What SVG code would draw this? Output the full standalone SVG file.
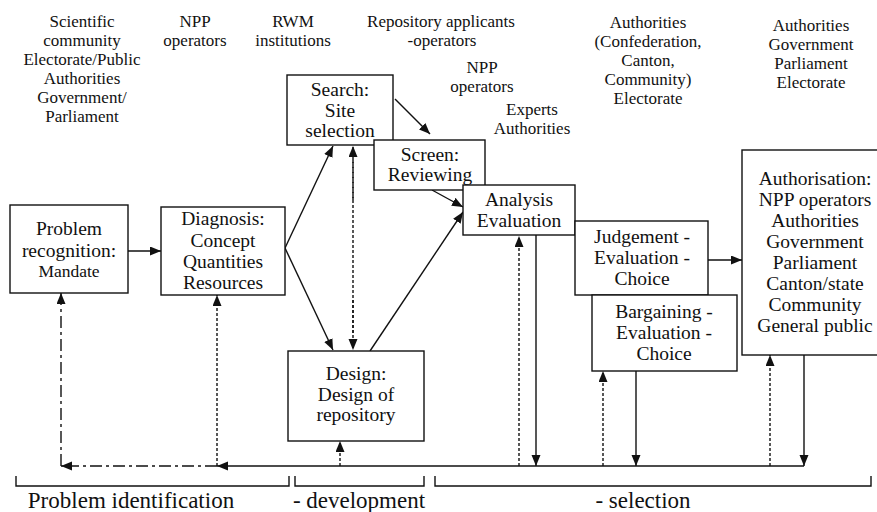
<svg xmlns="http://www.w3.org/2000/svg" width="877" height="512" viewBox="0 0 877 512" font-family="'Liberation Serif', 'Times New Roman', 'DejaVu Serif', serif">
<style>
  text { font-family: 'Liberation Serif', 'Times New Roman', 'DejaVu Serif', serif; fill: #111; text-anchor: middle; }
  .lbl { font-size: 17px; }
  .box { font-size: 19.5px; }
  .big { font-size: 23px; }
  rect { fill: #fff; stroke: #111; stroke-width: 1.4; }
  .c { fill: none; stroke: #111; stroke-width: 1.4; }
  .dot { stroke-dasharray: 3 2; }
  .dd { stroke-dasharray: 12 4 3 4; }
</style>
<defs>
  <marker id="a" markerUnits="userSpaceOnUse" markerWidth="12" markerHeight="10" refX="11" refY="4.5" orient="auto">
    <path d="M0,0 L11,4.5 L0,9 Z" fill="#111"/>
  </marker>
</defs>
<rect x="0" y="0" width="877" height="512" style="fill:#fff;stroke:none"/>

<g id="actor-labels">
  <text class="lbl" x="82" y="27">Scientific</text>
  <text class="lbl" x="82" y="46">community</text>
  <text class="lbl" x="82" y="65">Electorate/Public</text>
  <text class="lbl" x="82" y="84">Authorities</text>
  <text class="lbl" x="82" y="103">Government/</text>
  <text class="lbl" x="82" y="122">Parliament</text>
  <text class="lbl" x="195" y="27">NPP</text>
  <text class="lbl" x="195" y="46">operators</text>
  <text class="lbl" x="293" y="27">RWM</text>
  <text class="lbl" x="293" y="46">institutions</text>
  <text class="lbl" x="441" y="27">Repository applicants</text>
  <text class="lbl" x="442" y="46">-operators</text>
  <text class="lbl" x="482" y="73">NPP</text>
  <text class="lbl" x="482" y="92">operators</text>
  <text class="lbl" x="532" y="115">Experts</text>
  <text class="lbl" x="532" y="134">Authorities</text>
  <text class="lbl" x="648" y="28">Authorities</text>
  <text class="lbl" x="648" y="47">(Confederation,</text>
  <text class="lbl" x="648" y="66">Canton,</text>
  <text class="lbl" x="648" y="85">Community)</text>
  <text class="lbl" x="648" y="104">Electorate</text>
  <text class="lbl" x="811" y="31">Authorities</text>
  <text class="lbl" x="811" y="50">Government</text>
  <text class="lbl" x="811" y="69">Parliament</text>
  <text class="lbl" x="811" y="88">Electorate</text>
</g>

<g id="connectors">
  <line class="c" x1="128" y1="251" x2="161" y2="251" marker-end="url(#a)"/>
  <line class="c" x1="285" y1="248" x2="333" y2="146" marker-end="url(#a)"/>
  <line class="c" x1="285" y1="248" x2="333" y2="350" marker-end="url(#a)"/>
  <line class="c dot" x1="353" y1="160" x2="353" y2="335"/>
  <line class="c dot" x1="353" y1="200" x2="353" y2="146" marker-end="url(#a)"/>
  <line class="c dot" x1="353" y1="300" x2="353" y2="350" marker-end="url(#a)"/>
  <line class="c" x1="370" y1="351" x2="463" y2="212" marker-end="url(#a)"/>
  <line class="c" x1="395" y1="99" x2="430" y2="134" marker-end="url(#a)"/>
  <line class="c" x1="432" y1="190" x2="463" y2="207" marker-end="url(#a)"/>
  <line class="c" x1="708" y1="260" x2="742" y2="260" marker-end="url(#a)"/>
  <line class="c" x1="536" y1="235" x2="536" y2="466" marker-end="url(#a)"/>
  <line class="c dot" x1="519" y1="466" x2="519" y2="236" marker-end="url(#a)"/>
  <line class="c dot" x1="603" y1="466" x2="603" y2="371" marker-end="url(#a)"/>
  <line class="c" x1="636" y1="371" x2="636" y2="466" marker-end="url(#a)"/>
  <line class="c dot" x1="770" y1="466" x2="770" y2="355" marker-end="url(#a)"/>
  <line class="c" x1="804" y1="355" x2="804" y2="466" marker-end="url(#a)"/>
  <line class="c" x1="804" y1="466" x2="217" y2="466" marker-end="url(#a)"/>
  <line class="c dot" x1="340" y1="466" x2="340" y2="441" marker-end="url(#a)"/>
  <line class="c dot" x1="217" y1="466" x2="217" y2="295" marker-end="url(#a)"/>
  <line class="c dd" x1="217" y1="466" x2="61" y2="466" marker-end="url(#a)"/>
  <line class="c dd" x1="61" y1="466" x2="61" y2="293" marker-end="url(#a)"/>
</g>

<g id="problem-recognition">
  <rect x="10" y="205" width="118" height="88"/>
  <text class="box" x="69" y="235">Problem</text>
  <text class="box" x="69" y="257">recognition:</text>
  <text class="box" x="69" y="277" style="font-size:17.5px">Mandate</text>
</g>
<g id="diagnosis">
  <rect x="161" y="207" width="124" height="88"/>
  <text class="box" x="223" y="225">Diagnosis:</text>
  <text class="box" x="223" y="247">Concept</text>
  <text class="box" x="223" y="268">Quantities</text>
  <text class="box" x="223" y="289">Resources</text>
</g>
<g id="search">
  <rect x="287" y="75" width="106" height="70"/>
  <text class="box" x="340" y="96">Search:</text>
  <text class="box" x="340" y="117">Site</text>
  <text class="box" x="340" y="137">selection</text>
</g>
<g id="screen">
  <rect x="374" y="140" width="111" height="50"/>
  <text class="box" x="430" y="161">Screen:</text>
  <text class="box" x="430" y="181">Reviewing</text>
</g>
<g id="analysis">
  <rect x="463" y="185" width="112" height="50"/>
  <text class="box" x="519" y="206">Analysis</text>
  <text class="box" x="519" y="227">Evaluation</text>
</g>
<g id="judgement">
  <rect x="575" y="221" width="133" height="74"/>
  <text class="box" x="642" y="243">Judgement -</text>
  <text class="box" x="642" y="264">Evaluation -</text>
  <text class="box" x="642" y="285">Choice</text>
</g>
<g id="bargaining">
  <rect x="592" y="295" width="145" height="76"/>
  <text class="box" x="664" y="318">Bargaining -</text>
  <text class="box" x="664" y="339">Evaluation -</text>
  <text class="box" x="664" y="360">Choice</text>
</g>
<g id="authorisation">
  <rect x="742" y="150" width="146" height="205"/>
  <text class="box" x="815" y="185">Authorisation:</text>
  <text class="box" x="815" y="206">NPP operators</text>
  <text class="box" x="815" y="227">Authorities</text>
  <text class="box" x="815" y="248">Government</text>
  <text class="box" x="815" y="269">Parliament</text>
  <text class="box" x="815" y="290">Canton/state</text>
  <text class="box" x="815" y="311">Community</text>
  <text class="box" x="815" y="332">General public</text>
</g>
<g id="design">
  <rect x="288" y="351" width="136" height="90"/>
  <text class="box" x="356" y="380">Design:</text>
  <text class="box" x="356" y="401">Design of</text>
  <text class="box" x="356" y="421">repository</text>
</g>

<g id="phases">
  <path class="c" d="M16,476 V486 H289 V476"/>
  <path class="c" d="M295,476 V486 H424 V476"/>
  <path class="c" d="M435,476 V486 H871 V476"/>
  <text class="big" x="131" y="508">Problem identification</text>
  <text class="big" x="359" y="508">- development</text>
  <text class="big" x="643" y="508">- selection</text>
</g>
</svg>
